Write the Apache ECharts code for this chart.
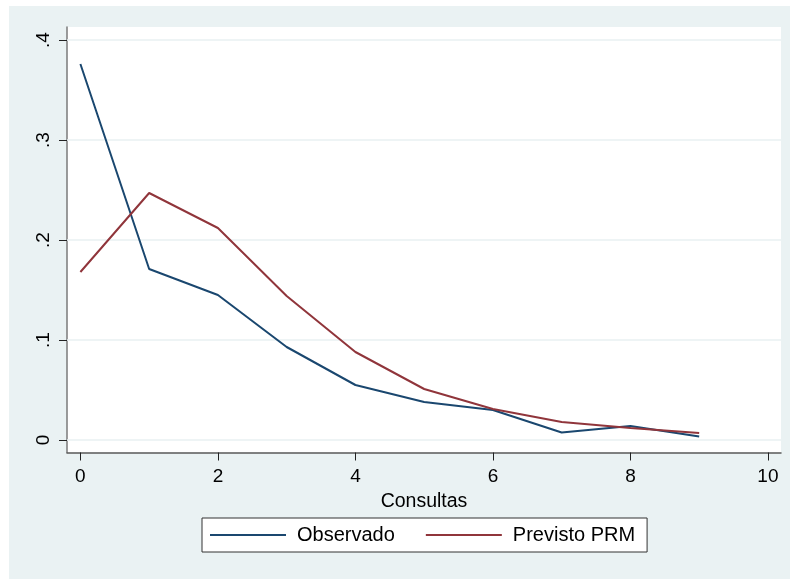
<!DOCTYPE html>
<html>
<head>
<meta charset="utf-8">
<script src="https://cdn.jsdelivr.net/npm/echarts@6/dist/echarts.min.js"></script>
<style>
html,body{margin:0;padding:0;background:#ffffff;}
#wrap{position:absolute;left:0;top:0;width:790px;height:579px;background:#ffffff;}
#chart{position:absolute;left:9px;top:6px;width:781px;height:573px;}
</style>
</head>
<body>
<div id="wrap"><div id="chart"></div></div>
<script>
const consultas = [0, 1, 2, 3, 4, 5, 6, 7, 8, 9];
const observado = [0.376, 0.171, 0.145, 0.093, 0.055, 0.038, 0.030, 0.0075, 0.014, 0.0035];
const previstoPRM = [0.168, 0.247, 0.212, 0.144, 0.088, 0.051, 0.031, 0.018, 0.012, 0.007];
const xTicks = [0, 2, 4, 6, 8, 10];
const yTicks = [0, 0.1, 0.2, 0.3, 0.4];
const yTickLabels = ['0', '.1', '.2', '.3', '.4'];
const seriesNames = ['Observado', 'Previsto PRM'];
const xTitle = 'Consultas';

const FONT = 'Liberation Sans, Arial, sans-serif';
const chart = echarts.init(document.getElementById('chart'), null, {renderer: 'canvas'});
const offX = 9, offY = 6;
chart.setOption({
  backgroundColor: '#eaf2f3',
  animation: false,
  grid: {
    left: 67 - offX, top: 27 - offY, right: 9, bottom: 579 - 452.5,
    show: true, backgroundColor: '#ffffff', borderWidth: 0, containLabel: false
  },
  xAxis: {
    type: 'value', min: -0.195, max: 10.19,
    name: xTitle, nameLocation: 'middle', nameGap: 33,
    nameTextStyle: {fontFamily: FONT, fontSize: 19.5, color: '#000'},
    axisLine: {show: true, onZero: false, lineStyle: {color: '#5a5a5a', width: 1.5}},
    axisTick: {show: true, length: 8, customValues: xTicks, lineStyle: {color: '#222', width: 1}},
    axisLabel: {customValues: xTicks, margin: 15, fontFamily: FONT, fontSize: 19, color: '#000'},
    splitLine: {show: false}
  },
  yAxis: {
    type: 'value', min: -0.0125, max: 0.413,
    axisLine: {show: true, onZero: false, lineStyle: {color: '#7a7a7a', width: 1.5}},
    axisTick: {show: true, length: 8, customValues: yTicks, lineStyle: {color: '#222', width: 1}},
    axisLabel: {
      customValues: yTicks, margin: 14, rotate: 90, fontFamily: FONT, fontSize: 19, color: '#000',
      formatter: function (v) {
        const i = yTicks.findIndex(t => Math.abs(t - v) < 1e-9);
        return i >= 0 ? yTickLabels[i] : '';
      }
    },
    splitLine: {show: false}
  },
  legend: {
    left: 202 - offX, top: 518 - offY,
    data: seriesNames,
    icon: 'rect', itemWidth: 76, itemHeight: 2, itemGap: 31,
    padding: [7, 12, 7, 8],
    backgroundColor: '#ffffff', borderColor: '#333333', borderWidth: 1,
    textStyle: {fontFamily: FONT, fontSize: 20, color: '#000', padding: [0, 0, 0, 6]}
  },
  series: [
    {
      name: 'grid', type: 'line', data: [], silent: true, z: 1,
      markLine: {
        silent: true, symbol: 'none', label: {show: false}, z: 1,
        lineStyle: {color: '#e8f0f2', width: 1.5, type: 'solid'},
        data: yTicks.map(v => ({yAxis: v}))
      }
    },
    {
      name: seriesNames[0], type: 'line', showSymbol: false, symbol: 'none', z: 5,
      data: consultas.map((c, i) => [c, observado[i]]),
      lineStyle: {color: '#1a476f', width: 2}, itemStyle: {color: '#1a476f'}
    },
    {
      name: seriesNames[1], type: 'line', showSymbol: false, symbol: 'none', z: 5,
      data: consultas.map((c, i) => [c, previstoPRM[i]]),
      lineStyle: {color: '#90353b', width: 2}, itemStyle: {color: '#90353b'}
    }
  ]
});
</script>
</body>
</html>
